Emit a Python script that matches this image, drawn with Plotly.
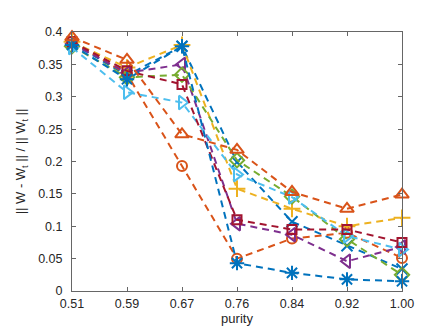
import plotly.graph_objects as go

purity = ["0.51", "0.59", "0.67", "0.76", "0.84", "0.92", "1.00"]

err_blue_x = [0.383, 0.333, 0.378, 0.199, 0.107, 0.070, 0.034]
err_orange_o = [0.385, 0.335, 0.193, 0.050, 0.081, 0.090, 0.051]
err_yellow_plus = [0.385, 0.345, 0.380, 0.158, 0.127, 0.100, 0.113]
err_purple_left = [0.382, 0.337, 0.350, 0.104, 0.087, 0.046, 0.068]
err_green_diamond = [0.378, 0.330, 0.334, 0.202, 0.146, 0.080, 0.025]
err_cyan_right = [0.376, 0.307, 0.291, 0.180, 0.145, 0.085, 0.064]
err_red_square = [0.385, 0.340, 0.319, 0.110, 0.095, 0.095, 0.075]
err_blue_star = [0.380, 0.327, 0.378, 0.043, 0.028, 0.018, 0.015]
err_orange_tri = [0.392, 0.357, 0.242, 0.218, 0.153, 0.127, 0.149]

series = [
    (err_blue_x, "#0072BD", "x-thin-open", 11),
    (err_orange_o, "#D95319", "circle-open", 10),
    (err_yellow_plus, "#EDB120", "cross-thin-open", 12),
    (err_purple_left, "#7E2F8E", "triangle-left-open", 12),
    (err_green_diamond, "#77AC30", "diamond-open", 11),
    (err_cyan_right, "#4DBEEE", "triangle-right-open", 12),
    (err_red_square, "#A2142F", "square-open", 9),
    (err_blue_star, "#0072BD", "asterisk-open", 12),
    (err_orange_tri, "#D95319", "triangle-up-open", 12),
]

x = list(range(len(purity)))

fig = go.Figure()
for vals, color, symbol, size in series:
    fig.add_trace(go.Scatter(
        x=x, y=vals, mode="lines+markers", cliponaxis=False,
        line=dict(color=color, width=2, dash="7px,5px"),
        marker=dict(symbol=symbol, size=size, color=color,
                    line=dict(color=color, width=2)),
    ))

axis_style = dict(
    showline=True, linecolor="#666666", linewidth=1, mirror="ticks",
    ticks="inside", ticklen=4, tickcolor="#666666", showgrid=False,
    zeroline=False, tickfont=dict(family="Liberation Sans", size=12.5, color="#262626"),
)

fig.update_xaxes(
    range=[0, len(purity) - 1], tickvals=x, ticktext=purity,
    ticklabelstandoff=1,
    title=dict(text="purity", font=dict(family="Liberation Sans", size=13, color="#262626"), standoff=3),
    **axis_style,
)
fig.update_yaxes(
    range=[0, 0.4], dtick=0.05, ticklabelstandoff=6,
    title=dict(text="|| W - W<sub>t</sub> || / || W<sub>t</sub> ||",
               font=dict(family="Liberation Sans", size=13, color="#262626"), standoff=9),
    **axis_style,
)

fig.update_layout(
    width=436, height=327,
    margin=dict(l=60, r=42, t=24, b=42),
    showlegend=False,
    paper_bgcolor="white", plot_bgcolor="white",
)

fig.write_html("out.html")
